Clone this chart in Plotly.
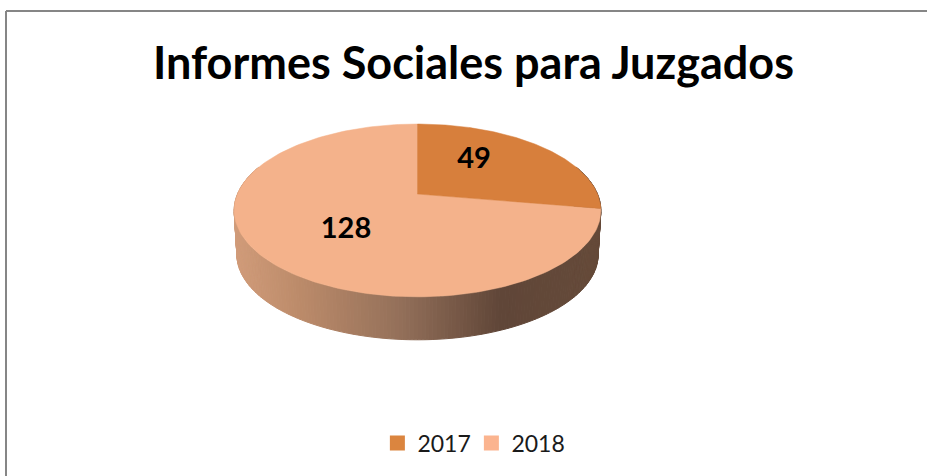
import numpy as np
import plotly.graph_objects as go

years = ["2017", "2018"]
values = [49, 128]
slice_colors = ["#D77F3C", "#F4B28B"]
legend_colors = ["#DB853F", "#FBB48F"]
title_text = "Informes Sociales para Juzgados"

W, H = 927, 476
AX, AY, RX, RY, K = 417.5, 194.0, 180.0, 83.3, 0.19
DEPTH, BSCALE = 44.5, 0.985


def rim(theta, scale=1.0, dy=0.0):
    u, v = np.sin(theta), np.cos(theta)
    w = 1 + K * v
    return AX + scale * RX * u / w, AY + dy - scale * RY * v / w


shade_x = [236, 300, 400, 500, 600]
shade_rgb = np.array([[209, 156, 122], [188, 139, 106], [148, 112, 90], [96, 70, 56], [102, 75, 58]])

fig = go.Figure()

# side wall
edges = np.radians(np.arange(70, 291, 1.0))
for a, b in zip(edges[:-1], edges[1:]):
    t = np.array([a, b])
    x1, y1 = rim(t)
    x2, y2 = rim(t[::-1], BSCALE, DEPTH)
    xm = (x1.mean() + x2.mean()) / 2
    c = [int(np.interp(xm, shade_x, shade_rgb[:, i])) for i in range(3)]
    col = f"rgb({c[0]},{c[1]},{c[2]})"
    fig.add_trace(go.Scatter(
        x=np.r_[x1, x2, x1[0]], y=np.r_[y1, y2, y1[0]], mode="lines", fill="toself",
        fillcolor=col, line=dict(color=col, width=1), showlegend=False, hoverinfo="skip"))

# top face: 2018 first so 2017 sits over it
fractions = np.cumsum([0] + values) / sum(values) * 2 * np.pi
for i in [1, 0]:
    t = np.linspace(fractions[i], fractions[i + 1], 180)
    x, y = rim(t)
    fig.add_trace(go.Scatter(
        x=np.r_[AX, x, AX], y=np.r_[AY, y, AY], mode="lines", fill="toself",
        fillcolor=slice_colors[i], line=dict(color=slice_colors[i], width=0.5),
        showlegend=False, hoverinfo="skip"))

# data labels
fig.add_trace(go.Scatter(
    x=[474, 346], y=[161, 231], mode="text", text=[str(v) for v in values],
    textposition="middle center",
    textfont=dict(family="Lato", size=29, color="#000000", weight="bold"),
    showlegend=False, hoverinfo="skip"))

# legend
for name, col in zip(years, legend_colors):
    fig.add_trace(go.Scatter(
        x=[None], y=[None], mode="markers", name=name,
        marker=dict(symbol="square", size=15, color=col)))

fig.update_layout(
    width=W, height=H, autosize=False,
    margin=dict(l=0, r=0, t=0, b=0),
    paper_bgcolor="#FFFFFF", plot_bgcolor="#FFFFFF",
    title=dict(text=title_text, x=0.5108, xanchor="center", y=0.868, yanchor="middle",
               font=dict(family="Lato", size=45, color="#000000", weight="bold")),
    xaxis=dict(range=[0, W], visible=False, fixedrange=True),
    yaxis=dict(range=[H, 0], visible=False, fixedrange=True),
    legend=dict(orientation="h", x=0.5085, xanchor="center", y=0.069, yanchor="middle",
                font=dict(family="Lato", size=23, color="#1A1A1A"),
                itemsizing="trace", itemwidth=30, entrywidth=49, entrywidthmode="pixels",
                bgcolor="rgba(0,0,0,0)"),
    shapes=[
        dict(type="line", xref="x", yref="y", x0=6, x1=927, y0=11, y1=11,
             line=dict(color="#868686", width=2)),
        dict(type="line", xref="x", yref="y", x0=6, x1=6, y0=11, y1=476,
             line=dict(color="#868686", width=2)),
    ],
)
fig.write_html("out.html", config=dict(displayModeBar=False),
               post_script="document.body.style.margin='0';document.body.style.overflow='hidden';")
